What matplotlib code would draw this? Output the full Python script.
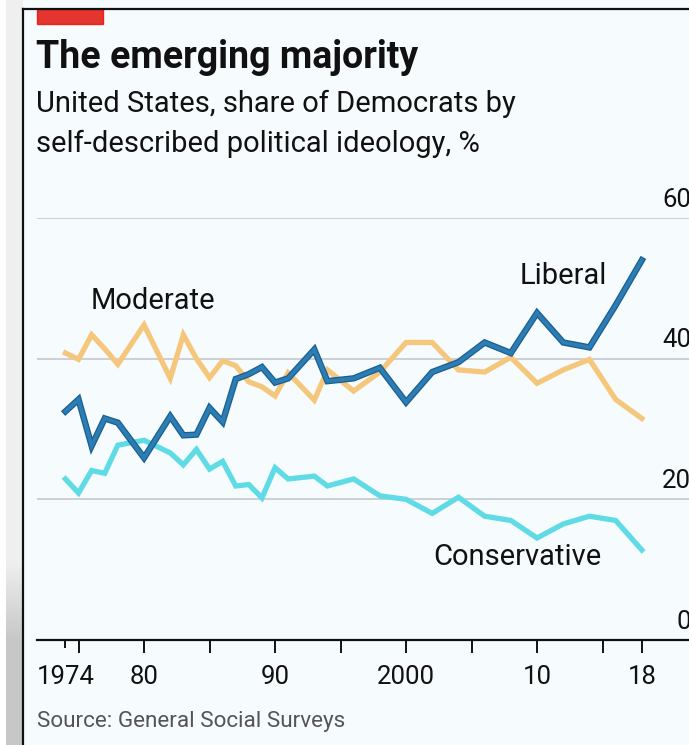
import numpy as np
import matplotlib
matplotlib.use("Agg")
import matplotlib.pyplot as plt
from matplotlib.patches import Rectangle
from matplotlib.lines import Line2D

# survey years (GSS)
years = [1974, 1975, 1976, 1977, 1978, 1980, 1982, 1983, 1984, 1985, 1986,
         1987, 1988, 1989, 1990, 1991, 1993, 1994, 1996, 1998, 2000, 2002,
         2004, 2006, 2008, 2010, 2012, 2014, 2016, 2018]

liberal = [32.5, 34.2, 27.6, 31.5, 30.9, 25.9, 31.8, 29.1, 29.2, 33.0, 31.0,
           37.1, 37.8, 38.8, 36.6, 37.2, 41.3, 36.8, 37.2, 38.7, 33.8, 38.1,
           39.5, 42.3, 40.8, 46.5, 42.3, 41.6, 47.6, 54.0]

moderate = [40.8, 39.9, 43.4, 41.4, 39.2, 44.8, 37.2, 43.4, 40.0, 37.3, 39.7,
            39.0, 36.7, 36.0, 34.7, 38.0, 34.1, 38.4, 35.4, 38.1, 42.3, 42.3,
            38.4, 38.1, 40.2, 36.5, 38.4, 39.9, 34.2, 31.5]

conservative = [22.9, 20.9, 24.1, 23.7, 27.7, 28.4, 26.6, 24.9, 27.1, 24.3, 25.4,
                21.9, 22.1, 20.2, 24.5, 22.9, 23.3, 21.9, 22.9, 20.5, 20.0, 18.0,
                20.3, 17.6, 17.0, 14.5, 16.5, 17.6, 17.0, 12.8]

tick_years = [1975, 1980, 1985, 1990, 1995, 2000, 2005, 2010, 2015, 2018]
label_years = [1974, 1980, 1990, 2000, 2010, 2018]
label_text = ["1974", "80", "90", "2000", "10", "18"]
y_ticks = [0, 20, 40, 60]

plt.rcParams['font.family'] = ["Roboto", "DejaVu Sans"]

W, H = 689, 745
fig = plt.figure(figsize=(W / 100, H / 100), dpi=100)
fig.patch.set_facecolor("#f6fbfd")

def fx(px):
    return px / W

def fy(py):
    return 1 - py / H

# grey strip on the left (screenshot shadow)
strip = fig.add_axes([0, 0, fx(23), 1])
grad = np.ones((H, 23))
shade = np.clip((np.arange(H) - 560) / 80, 0, 1)
for i in range(6, 23):
    grad[:, i] = 0.94 - 0.16 * shade
strip.imshow(grad, cmap="gray", vmin=0, vmax=1, aspect="auto")
strip.axis("off")

# card border
fig.add_artist(Line2D([fx(23), fx(23)], [fy(9), 0], color="#111111", lw=1.6,
                      transform=fig.transFigure))
fig.add_artist(Line2D([fx(23), 1], [fy(9), fy(9)], color="#111111", lw=1.6,
                      transform=fig.transFigure))
# red tag
fig.add_artist(Rectangle((fx(37), fy(24)), fx(66), fy(9) - fy(24),
                         color="#e3120b", alpha=0.85, transform=fig.transFigure))

fig.text(fx(36), fy(68), "The emerging majority", fontsize=27, fontweight="bold",
         color="#111111", ha="left", va="baseline")
fig.text(fx(36), fy(112), "United States, share of Democrats by", fontsize=21,
         color="#111111", ha="left", va="baseline")
fig.text(fx(36), fy(152), "self-described political ideology, %", fontsize=21,
         color="#111111", ha="left", va="baseline")
fig.text(fx(37), fy(727), "Source: General Social Surveys", fontsize=16.2,
         color="#555555", ha="left", va="baseline")

x0, x1 = 1971.83, 2021.6
ax = fig.add_axes([fx(37), fy(640), 1 - fx(37), fy(218) - fy(640)])
ax.set_facecolor("none")
ax.set_xlim(x0, x1)
ax.set_ylim(0, 60)

for v in y_ticks[1:]:
    ax.axhline(v, color="#c9cdd1", lw=1.3, zorder=1)
for v in y_ticks:
    ax.text(1.0035, v + 0.9, str(v), transform=ax.get_yaxis_transform(),
            ha="right", va="bottom", fontsize=18.5, color="#111111", clip_on=False)

ax.plot(years, moderate, color="#f5c77c", lw=3.8, zorder=3, solid_joinstyle="miter")
ax.plot(years, conservative, color="#5fdbe6", lw=3.8, zorder=3, solid_joinstyle="miter")
ax.plot(years, liberal, color="#1b5f8f", lw=4.6, zorder=4, solid_joinstyle="miter")
ax.plot(years, liberal, color="#2b7db4", lw=2.8, zorder=5, solid_joinstyle="miter")

ax.text(1975.9, 48.2, "Moderate", fontsize=21, color="#111111", ha="left", va="center")
ax.text(2008.7, 51.7, "Liberal", fontsize=21, color="#111111", ha="left", va="center")
ax.text(2002.1, 11.8, "Conservative", fontsize=21, color="#111111", ha="left", va="center")

for s in ["top", "right", "left"]:
    ax.spines[s].set_visible(False)
ax.spines["bottom"].set_color("#111111")
ax.spines["bottom"].set_linewidth(1.6)
ax.set_yticks([])
ax.set_xticks(tick_years)
ax.set_xticklabels([""] * len(tick_years))
ax.set_xticks([1974], minor=True)
ax.tick_params(axis="x", which="major", direction="out", length=9, width=1.4, color="#111111")
ax.tick_params(axis="x", which="minor", direction="out", length=5.5, width=1.4, color="#111111")
for ty, tl in zip(label_years, label_text):
    ax.text(ty, -3.6, tl, ha="center", va="top", fontsize=18.5, color="#111111",
            transform=ax.transData, clip_on=False)

fig.savefig("out.png", dpi=100, facecolor=fig.get_facecolor())
